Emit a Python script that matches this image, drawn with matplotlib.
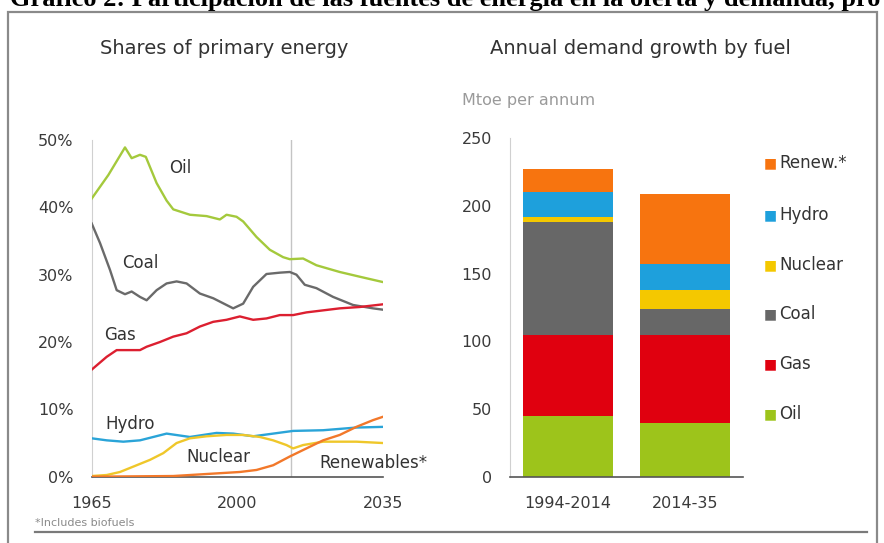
import numpy as np
import matplotlib
matplotlib.use('Agg')
import matplotlib.pyplot as plt
from matplotlib.patches import Rectangle
from matplotlib.lines import Line2D

plt.rcParams['font.family'] = ['DejaVu Sans']

# ---- shares of primary energy (%) ----
oil_yr = [1965, 1969, 1973, 1974.6, 1976.6, 1978, 1980.6, 1983, 1984.6, 1988.6, 1992.6,
          1995.8, 1997.4, 1999.8, 2001.4, 2004.6, 2007.8, 2011, 2012.6, 2015.8, 2019,
          2024.6, 2029.4, 2035]
oil = [41.3, 44.8, 48.9, 47.3, 47.8, 47.5, 43.6, 41.0, 39.7, 38.9, 38.7,
       38.2, 38.9, 38.6, 37.9, 35.6, 33.7, 32.6, 32.3, 32.4, 31.4,
       30.4, 29.7, 28.9]

coal_yr = [1965, 1967, 1969.4, 1971, 1973, 1974.6, 1976.6, 1978.2, 1980.6, 1983, 1985.4,
           1987.8, 1991, 1994.2, 1997.4, 1999, 2001.4, 2003.8, 2007, 2010.2, 2012.6,
           2014.2, 2016.2, 2019, 2023, 2027.8, 2032.6, 2035]
coal = [37.6, 34.7, 30.7, 27.7, 27.1, 27.5, 26.7, 26.2, 27.7, 28.7, 29.0,
        28.7, 27.2, 26.5, 25.5, 25.0, 25.7, 28.2, 30.1, 30.3, 30.4,
        30.0, 28.5, 28.0, 26.7, 25.5, 25.0, 24.8]

gas_yr = [1965, 1968.6, 1971, 1973.4, 1976.6, 1978.2, 1981.4, 1984.6, 1987.8, 1991,
          1994.2, 1997.4, 2000.6, 2003.8, 2007, 2010.2, 2013.4, 2016.6, 2020.6,
          2024.6, 2029.4, 2035]
gas = [15.9, 17.8, 18.8, 18.8, 18.8, 19.3, 20.0, 20.8, 21.3, 22.3,
       23.0, 23.3, 23.8, 23.3, 23.5, 24.0, 24.0, 24.4, 24.7,
       25.0, 25.2, 25.6]

hydro_yr = [1965, 1968.6, 1972.6, 1976.6, 1983, 1988.6, 1995, 1999, 2003.8, 2008.6,
            2013.4, 2020.6, 2028.6, 2035]
hydro = [5.7, 5.4, 5.2, 5.4, 6.4, 5.9, 6.5, 6.4, 6.0, 6.4,
         6.8, 6.9, 7.3, 7.4]

nuc_yr = [1965, 1968.6, 1971.8, 1975, 1979, 1982.2, 1985.4, 1988.6, 1992.6, 1997.4,
          2001.4, 2005.4, 2008.6, 2011.8, 2013.4, 2015.8, 2020.6, 2028.6, 2035]
nuclear = [0.1, 0.25, 0.7, 1.5, 2.5, 3.5, 5.0, 5.7, 6.0, 6.2,
           6.2, 5.9, 5.4, 4.7, 4.2, 4.7, 5.2, 5.2, 5.0]

ren_yr = [1965, 1984.6, 1992.6, 2000.6, 2004.6, 2008.6, 2012.6, 2016.6, 2020.6,
          2024.6, 2028.6, 2032.6, 2035]
renew = [0.0, 0.1, 0.4, 0.7, 1.0, 1.7, 3.0, 4.2, 5.4,
         6.2, 7.4, 8.4, 8.9]

# ---- annual demand growth by fuel (Mtoe per annum) ----
periods = ['1994-2014', '2014-35']
fuels = ['Oil', 'Gas', 'Coal', 'Nuclear', 'Hydro', 'Renew.*']
growth = {
    'Oil': [45, 40],
    'Gas': [60, 65],
    'Coal': [83, 19],
    'Nuclear': [4, 14],
    'Hydro': [18, 19],
    'Renew.*': [17, 52],
}
colors = {'Oil': '#9dc41b', 'Gas': '#e0000f', 'Coal': '#676767',
          'Nuclear': '#f4c800', 'Hydro': '#1ea0dc', 'Renew.*': '#f7740f'}
line_colors = {'Oil': '#a4c93c', 'Coal': '#6a6a6a', 'Gas': '#dc1f30',
               'Hydro': '#2aa4d8', 'Nuclear': '#efc72a', 'Renew.*': '#f2782a'}

W, H = 884, 543
fig = plt.figure(figsize=(W / 100, H / 100), dpi=100)

def fx(px):
    return px / W

def fy(py):
    return 1 - py / H

# outer frame and cut-off heading
fig.patches.append(Rectangle((fx(8), fy(560)), fx(877) - fx(8), fy(12) - fy(560),
                             transform=fig.transFigure, fill=False,
                             edgecolor='#8a8a8a', lw=1.6))
fig.text(fx(10), fy(6), 'Gráfico 2: Participación de las fuentes de energía en la oferta y demanda, pro',
         family='Liberation Serif', weight='bold', fontsize=19, color='black',
         ha='left', va='baseline')
fig.lines.append(Line2D([fx(35), fx(867)], [fy(532), fy(532)], transform=fig.transFigure,
                        color='#7a7a7a', lw=1.6))
fig.text(fx(35), fy(523), '*Includes biofuels', fontsize=8, color='#8a8a8a',
         ha='left', va='center')

tick_color = '#3a3a3a'

# ---- left chart ----
ax1 = fig.add_axes([fx(91.7), fy(476.7), fx(383) - fx(91.7), fy(140) - fy(476.7)])
series = [('Oil', oil_yr, oil), ('Coal', coal_yr, coal), ('Gas', gas_yr, gas),
          ('Hydro', hydro_yr, hydro), ('Nuclear', nuc_yr, nuclear), ('Renew.*', ren_yr, renew)]
ax1.axvline(2013, color='#c4c4c4', lw=1.0, zorder=1)
for name, xs, ys in series:
    ax1.plot(xs, ys, color=line_colors[name], lw=1.7, zorder=3)
ax1.set_xlim(1965, 2035)
ax1.set_ylim(0, 50)
ax1.set_xticks([1965, 2000, 2035])
ax1.set_yticks([0, 10, 20, 30, 40, 50])
ax1.set_yticklabels(['0%', '10%', '20%', '30%', '40%', '50%'])
ax1.tick_params(length=0, labelsize=11.5, colors=tick_color)
ax1.tick_params(axis='y', pad=13)
ax1.tick_params(axis='x', pad=14)
for s in ['top', 'right']:
    ax1.spines[s].set_visible(False)
ax1.spines['left'].set_color('#d0d0d0')
ax1.spines['bottom'].set_color('#555555')
ax1.spines['bottom'].set_linewidth(1.2)
fig.text(fx(224), fy(48), 'Shares of primary energy', fontsize=14, color='#333333',
         ha='center', va='center')

labels = [('Oil', 1986.2, 45.8), ('Coal', 1976.6, 31.7), ('Gas', 1971.8, 21.0),
          ('Hydro', 1974.2, 7.9), ('Nuclear', 1995.4, 2.9), ('Renewables*', 2032.6, 2.1)]
for txt, x, y in labels:
    ax1.text(x, y, txt, fontsize=12, color='#333333', ha='center', va='center', zorder=4)

# ---- right chart ----
ax2 = fig.add_axes([fx(510), fy(476.7), fx(743) - fx(510), fy(138.3) - fy(476.7)])
xpos = np.arange(len(periods))
bottom = np.zeros(len(periods))
for f in fuels:
    vals = np.array(growth[f])
    ax2.bar(xpos, vals, bottom=bottom, width=0.77, color=colors[f], zorder=2)
    bottom += vals
ax2.set_xlim(-0.5, 1.5)
ax2.set_ylim(0, 250)
ax2.set_xticks(xpos)
ax2.set_xticklabels(periods)
ax2.set_yticks([0, 50, 100, 150, 200, 250])
ax2.tick_params(length=0, labelsize=11.5, colors=tick_color)
ax2.tick_params(axis='y', pad=13)
ax2.tick_params(axis='x', pad=14)
for s in ['top', 'right']:
    ax2.spines[s].set_visible(False)
ax2.spines['left'].set_color('#d0d0d0')
ax2.spines['bottom'].set_color('#555555')
ax2.spines['bottom'].set_linewidth(1.2)
fig.text(fx(640), fy(48), 'Annual demand growth by fuel', fontsize=14, color='#333333',
         ha='center', va='center')
fig.text(fx(462), fy(101), 'Mtoe per annum', fontsize=11.5, color='#9a9a9a',
         ha='left', va='center')

# legend, top to bottom
leg_y = [163, 215, 265, 314, 364, 414]
for f, py in zip(fuels[::-1], leg_y):
    fig.text(fx(770), fy(py), '■', fontsize=10, color=colors[f], ha='center', va='center')
    fig.text(fx(779), fy(py), f, fontsize=12, color='#333333', ha='left', va='center')

fig.savefig('out.png', dpi=100, facecolor='white')
